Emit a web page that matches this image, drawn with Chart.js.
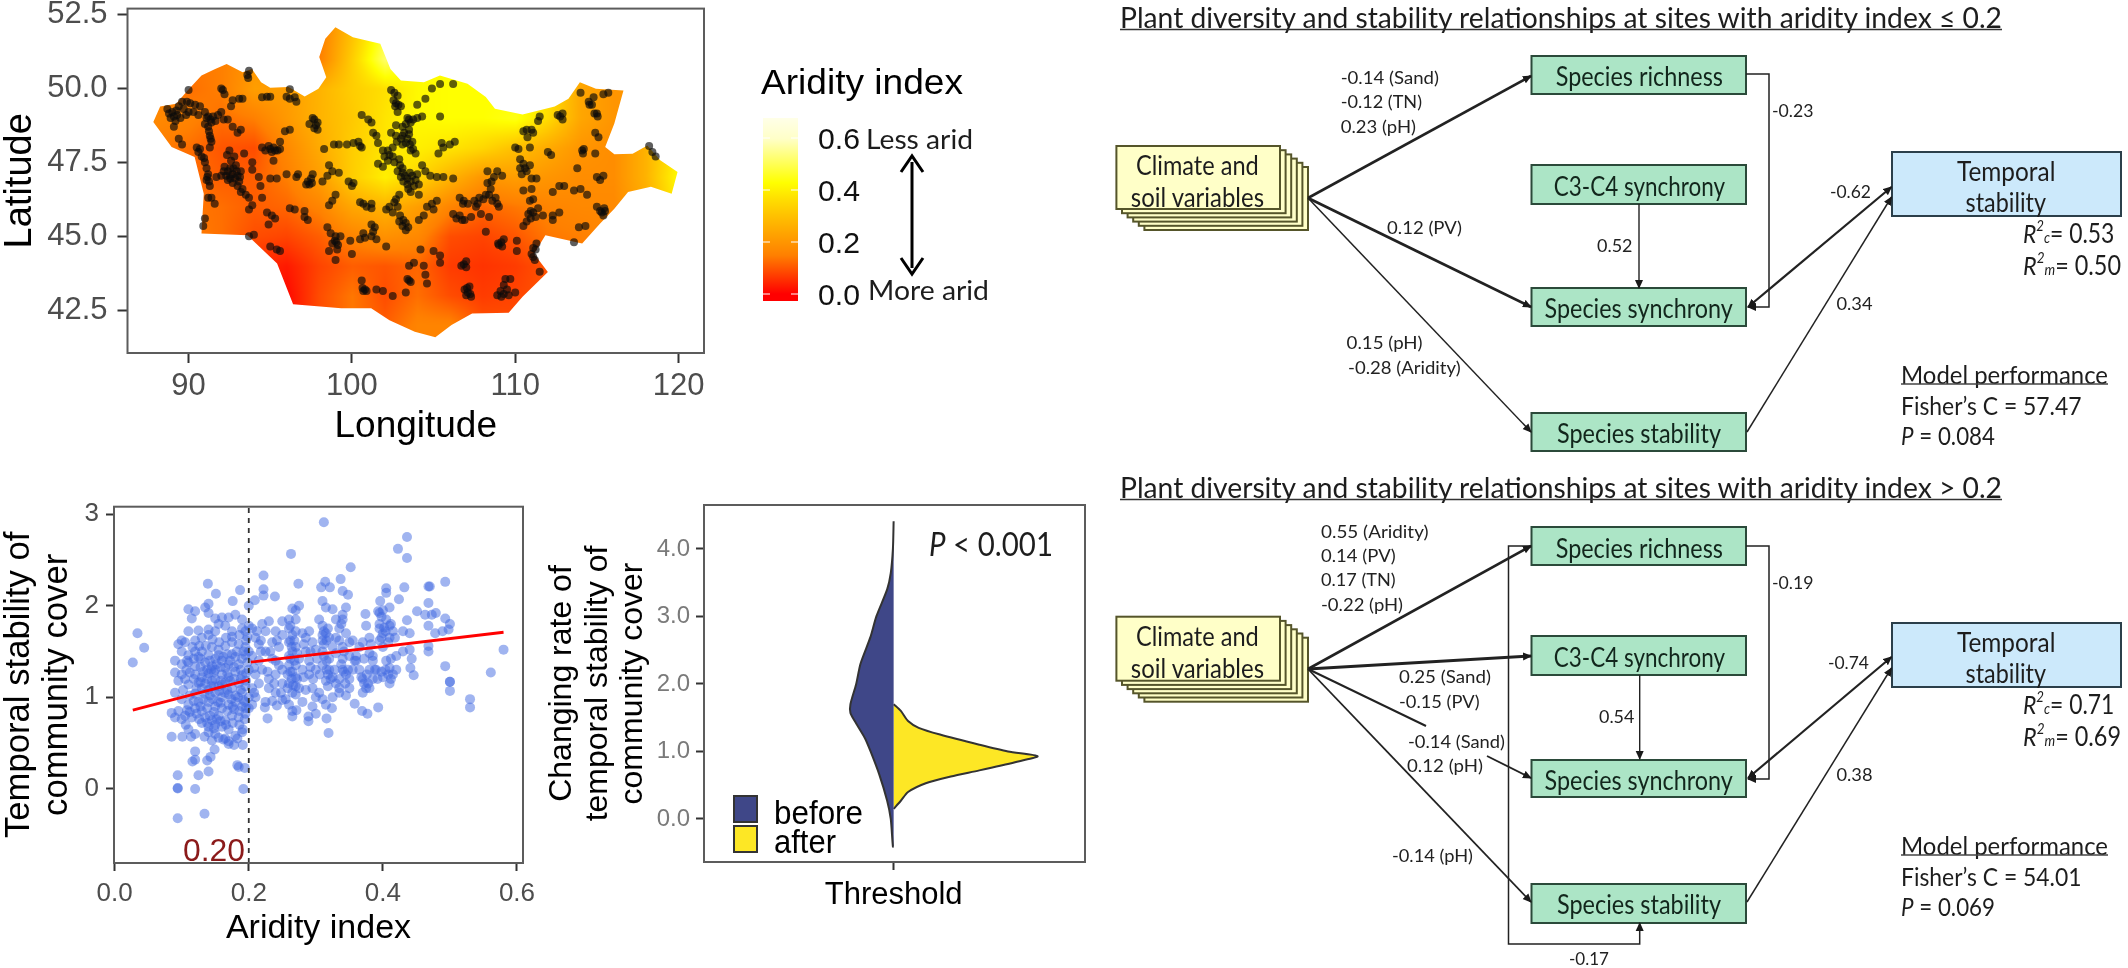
<!DOCTYPE html>
<html><head><meta charset="utf-8">
<script src="https://cdn.jsdelivr.net/npm/chart.js@4"></script>
<style>
html,body{margin:0;padding:0;background:#fff;width:2128px;height:968px;overflow:hidden}
canvas{position:absolute;filter:blur(.5px)}
svg{position:absolute;left:0;top:0;filter:blur(.35px)}
</style></head><body>
<canvas id="map" style="left:0;top:-20px" width="740" height="470"></canvas>
<canvas id="sca" style="left:0;top:470px" width="550" height="498"></canvas>
<canvas id="vio" style="left:545px;top:470px" width="560" height="498"></canvas>
<svg id="ov" width="2128" height="968" xmlns="http://www.w3.org/2000/svg"></svg>
<script>
// ---------- DATA ----------
const lonTicks=[90,100,110,120];
const latTicks=[42.5,45,47.5,50,52.5];
const aridityTicks=[0,0.2,0.4,0.6];
const stabilityTicks=[0,1,2,3];
const rateTicks=[0,1,2,3,4];
const legendTicks=[0,0.2,0.4,0.6];
// aridity surface
const gridLons=[88,90,92,94,96,98,100,102,104,106,108,110,112,114,116,118,120];
const gridLats=[52,51,50,49,48,47,46,45,44,43,42,41];
const aridityGrid=[
[.15,.15,.15,.17,.15,.14,.30,.47,.42,.42,.42,.42,.38,.25,.20,.20,.30],
[.15,.14,.15,.20,.15,.15,.33,.52,.42,.43,.43,.42,.38,.25,.20,.20,.30],
[.15,.13,.15,.22,.22,.27,.33,.37,.42,.43,.43,.42,.38,.24,.20,.20,.30],
[.17,.16,.13,.15,.21,.27,.32,.38,.42,.43,.43,.45,.36,.24,.20,.20,.30],
[.15,.13,.10,.09,.17,.25,.33,.38,.40,.38,.35,.30,.25,.20,.18,.27,.40],
[.14,.13,.11,.11,.15,.22,.33,.40,.35,.27,.20,.22,.20,.18,.18,.27,.43],
[.15,.14,.13,.11,.12,.16,.24,.27,.22,.16,.12,.14,.16,.17,.17,.25,.40],
[.15,.15,.13,.09,.08,.11,.16,.19,.17,.09,.08,.10,.14,.15,.17,.20,.30],
[.15,.15,.10,.05,.03,.08,.11,.10,.12,.07,.06,.07,.10,.14,.15,.20,.30],
[.15,.15,.10,.05,.01,.09,.14,.09,.13,.09,.07,.08,.10,.14,.15,.20,.30],
[.15,.15,.10,.05,.01,.09,.14,.11,.16,.16,.10,.09,.10,.14,.15,.20,.30],
[.15,.15,.10,.05,.01,.09,.14,.11,.16,.16,.10,.09,.10,.14,.15,.20,.30]];
const colourStops=[[0,'#ff0000'],[.075,'#ff4000'],[.15,'#ff8000'],[.225,'#ffa000'],[.3,'#ffc000'],[.37,'#ffe000'],[.43,'#ffff00'],[.6,'#ffffc8'],[.68,'#ffffe8']];
const border=[[87.84,48.86],[88.26,49.39],[89.24,49.48],[89.94,49.93],[90.79,50.44],[91.63,50.66],[92.33,50.83],[93.31,50.55],[93.88,50.66],[94.44,50.21],[95,50.02],[96.12,50.05],[97.11,49.73],[97.95,49.99],[98.43,50.38],[98,51.06],[98.37,51.68],[98.99,52.07],[100.06,51.73],[101.74,51.51],[102.36,50.66],[103,50.27],[104.41,50.21],[105.39,50.44],[107.08,50.16],[108.2,49.71],[108.76,49.31],[110.45,49.12],[112.42,49.39],[113.26,49.65],[113.96,50.21],[114.94,49.99],[116.63,49.93],[116.07,48.81],[115.51,48.02],[116.07,47.77],[117.19,47.79],[118.09,48.07],[118.88,47.57],[119.94,47.17],[119.58,46.44],[118.31,46.67],[116.91,46.5],[116.07,45.93],[115.2,45.43],[114.1,44.75],[111.85,45.03],[111.15,44.41],[112,43.79],[110.45,42.95],[109.6,42.41],[107.36,42.39],[106.1,42],[105.11,41.58],[103.85,41.77],[102.3,42.16],[101.18,42.56],[99.35,42.56],[96.4,42.7],[95.42,44.08],[93.6,45.03],[90.79,45.09],[90.93,46.44],[90.37,47.68],[88.96,48.02]];
const sites=[[88.7,49.3],[88.9,49],[89,49.2],[89.2,48.9],[89.3,49.1],[89.5,49],[89.1,48.7],[89.4,49.4],[89.6,49.55],[89.9,49.55],[90,49.95],[89.4,48.3],[89.6,48.1],[90.1,49.5],[90.3,49.2],[90,49.2],[90.7,49.4],[91,49.2],[91.2,49.05],[91.5,49.05],[91.8,49.1],[92,49.2],[91,48.8],[91.2,48.7],[91.4,48.85],[92.4,48.95],[92.7,48.7],[93,48.5],[93.2,48.6],[92.2,49.8],[92,50],[92.1,49.95],[93.1,49.65],[93.3,49.65],[92.7,49.6],[92.6,49.4],[91.3,48.4],[91.4,48.2],[91.3,48],[90.7,47.95],[90.5,48],[90.8,47.7],[91,47.5],
[93.6,50.45],[93.7,50.6],[93.65,50.35],[94.5,49.7],[94.8,49.72],[95,49.72],[96,49.72],[96.2,49.65],[96.5,49.7],[96.6,49.55],[96.2,49.97],
[92.5,47.9],[92.8,47.7],[92.6,47.55],[92.9,47.4],[92.2,47.35],[92.4,47.2],[92.7,47.1],[93,47.05],[93.2,47.2],[92,47.05],[91.7,47],[92.4,46.9],[92.7,46.8],[93,46.7],[93.3,46.6],[93.5,46.4],[93.7,46.3],[91.2,47.1],[91.1,46.9],[91.3,46.7],[91.2,46.3],[91.4,46.3],[91.6,46.1],[93.9,46.05],[93.7,45.9],[93.4,47.8],[93.9,47.5],[93.9,47.25],[94.3,47],[94.4,46.7],[94.5,46.3],
[94.5,48],[94.9,48.05],[95.1,47.85],[95.3,47.9],[95.6,47.95],[95.6,48.2],[95.9,48.55],[96.2,48.6],[95.2,47.55],[95,46.95],[95.4,46.95],
[94.8,45.8],[95.1,45.7],[95.3,45.6],[94.9,45.4],[93.7,45],[94,45.05],[95,44.65],[95.4,44.55],[95.6,44.5],[91,45.6],[90.9,45.35],
[96.2,45.95],[96.5,45.9],[97.1,45.85],[97.1,45.65],[97.3,45.55],[96.7,47.1],[96.6,47],[97.2,46.75],[97.4,46.75],[97.6,47.1],[97.5,46.95],[98.2,46.85],[98.5,47.05],[98.8,47.2],[98.6,47.4],[99.2,47.15],
[97.4,48.8],[97.6,49],[97.7,48.65],[97.9,48.85],[97.9,48.6],[98.3,47.95],[98.9,48.1],[99.2,48.1],[99.7,48.1],[100.1,48.15],[100.4,48.2],[100.5,48.05],[100.6,48],
[99.8,46.85],[100.1,46.8],[100,46.7],[98.8,46.2],[99,46.4],[98.6,46.05],[100.5,46.15],[100.7,46.1],[100.9,46],[101.2,45.95],[101.2,46.1],
[102.1,45.9],[102.3,46],[102.5,45.8],[102.7,46.25],[102.9,46.4],[102.8,46],[102.9,45.5],[103.1,45.35],[103.3,45.2],[103.3,45.45],
[104.1,45.55],[104.4,45.7],[104.6,46],[104.9,46.1],[105.2,46.2],[105,45.9],
[100.6,49.1],[101,48.95],[101.2,48.85],[101.3,48.5],[101.5,48.4],[101.6,48.15],[102.4,49.95],[102.6,49.85],[102.8,49.75],[102.7,49.5],[103,49.4],[102.8,49.2],[103.4,49],[103.6,48.85],[104,49],[104.3,49.05],[104,49.45],[104.5,49.65],[105.4,49.05],[104.9,50],[105.4,50.15],[106.2,50.15],[103.1,48.7],[102.7,48.75],[102.4,48.5],[102.7,48.4],[103.1,48.4],[103.5,48.6],[103.4,48.3],[103.7,48.2],[103.1,48.1],[103.6,47.9],[103.9,47.8],[102.5,48],[102.2,47.9],[101.9,47.9],[102,47.7],[102.5,47.7],[102.9,47.6],[101.6,47.45],[101.9,47.35],[102.8,47.2],[103.1,47.15],[103,47],[103.4,46.95],[103.7,47.05],[103.9,46.9],[103.4,46.75],[103.6,46.5],[104.1,46.4],[104.3,47.4],[104.5,47.2],[104.8,47.05],[105.2,47],[105.6,47],[106.2,46.95],[105.3,47.8],[105.5,48.15],[105.6,48],[106,48.1],[106.3,48.2],
[106.6,46.3],[106.8,46.1],[107.1,46.1],[106.2,45.75],[106.6,45.7],[106.9,45.55],[107.3,45.65],[107.6,46],[107.8,46.3],[108.2,46.4],[108.3,46.8],[108.5,46.6],[108.8,46.3],[108.9,46.1],[109,46],[107.9,45.75],[108.4,45.65],[108.3,47.2],[108.9,47.2],[109.2,47.05],[108.7,47],
[108.2,45.15],[109,44.7],[109.3,44.9],[109.2,44.65],[110.1,44.5],[110.1,44.85],[110.5,45.35],[110.7,45.5],[110.95,45.6],[111.1,45.8],[111.4,45.95],[111.7,45.7],[110.9,46.2],[111,46.6],[110.5,46.55],[111,46.95],[111.3,46.95],
[110,48],[110.2,47.95],[110.3,47.6],[110.3,47.3],[110.6,47.3],[110.9,47.4],[110.5,48.55],[110.7,48.6],[111.1,48.5],[110.9,48],[111.4,48.9],[111.5,49.05],[112.6,49.1],[112.9,49.15],[112.9,48.95],[112,47.85],[112.2,47.75],[112.7,46.7],[113,46.7],[112.3,46.5],[113.6,46.55],[114,46.6],[114.4,46.4],[113.8,47.3],[114.1,47.9],[114.2,47.95],[114.9,47.8],
[114,49.85],[114.5,49.55],[114.8,49.7],[115.4,49.8],[115.7,49.85],[115,49.15],[114.9,48.5],[115.1,48.35],[115,47],[115.4,47.05],[115,46],[115.3,45.8],[115.5,45.85],[115.2,45.85],[113.9,45.3],[114.3,45.35],[113.6,44.8],[112.3,45.7],[112.7,45.8],[112.3,45.55],[118.2,48.05],[118.4,47.85],[118.6,47.7],
[98.5,45.3],[98.7,45.1],[99,45],[99.3,45],[98.8,44.75],[98.6,44.5],[99.1,44.55],[99,44.2],[99.9,44.85],[100,44.4],[100.5,44.9],[100.7,45.1],[101.2,45.4],[101.4,45.3],[101.2,45],[101.5,44.9],[102.1,44.65],[100.6,43.5],[100.7,43.15],[100.9,43.15],[101.5,43.2],[101.9,43.15],[102.5,42.98],[103.3,43.1],[103.5,43.5],[103.5,44],[103.8,44.1],[104.2,44.55],[104.4,44],[104.5,43.7],[104.6,43.4],[105,44.5],[105.4,44.35],[105.4,44.1],[106.7,44],[107,44.15],[107,43.95],
[106.9,43.2],[107.2,43.3],[107,43],[107.3,42.95],[107.1,43.1],[108.9,43],[109.1,43.15],[109.3,43.05],[109.4,43.55],[109.7,43.55],[110,43.1],[109.6,43],[109.3,43.35],[111,44.4],[111.1,44.6],[111.3,44.75],[111.2,44.2],[111.5,43.8],
// denser parts of the same tracks
[88.8,49.15],[89.1,49.05],[89.25,49.25],[89.7,49.3],[89.85,49.1],[90.4,49.45],[90.6,49.1],[91.1,49],[91.35,48.95],[91.65,48.9],[92.15,48.95],[91.25,48.55],[91.35,48.3],[90.6,47.85],[90.95,47.65],[91.1,47.3],
[92.35,47.75],[92.55,47.3],[92.75,47.3],[92.95,47.2],[92.15,47.2],[92.3,47.05],[92.55,46.95],[92.85,46.95],[93.1,46.85],[92.55,47.05],[93.2,46.5],[91.15,47],[91.25,46.85],[93.15,47],
[95,47.95],[95.2,48],[95.45,47.9],[94.7,47.9],[96,47.1],[97.3,46.85],[97.55,46.8],[97.7,48.95],[97.8,48.75],
[102.55,49.6],[102.85,49.45],[102.65,49.4],[103.5,48.95],[103.75,48.95],[103.3,48.8],[103.2,48.5],[103.5,48.45],[103.3,48.15],[103.55,48.1],[103.75,47.95],[103,48.3],[102.75,48.2],[102.3,47.75],[102.2,47.55],[102.6,47.5],[102.95,47.4],[103.1,47.3],[103.25,47.05],[103.55,47.15],[103.15,46.85],[103.45,46.6],[103.6,46.85],[103.8,46.7],[104.1,46.75],[104,47.1],[102.6,46.15],[102.95,45.7],[103.15,45.55],[103.45,45.3],
[106.85,46.2],[107.5,46.2],[107.7,46.1],[108.05,46.25],[108.4,46.4],[108.6,46.2],[108.55,46.85],[106.4,45.6],[106.75,45.55],[110.8,45.75],[110.95,45.85],[111.25,45.65],[111.1,46.25],[110.5,47.45],[110.7,47.2],[110.4,47.1],[110.75,48.35],[111,48.6],[112.75,49.05],
[114.55,49.45],[114.7,49.45],[114.85,49.15],[115.05,49.05],[115.2,46.9],[115.45,45.95],[115.4,45.7],[114.15,47.8],
[98.95,44.85],[99.05,44.8],[99.15,44.7],[100.8,44.95],[101.3,45.15],[100.8,43.2],[100.65,43.25],[103.4,43.55],[103.6,43.45],[107.05,43.25],[107.25,43.05],[109.5,43.2],[109.15,42.95],[108.95,44.75],[109.15,44.8],[106.85,44.05],[111.1,44.3],[111.25,44.55]];

const stabilityPoints=[[.312,2.91],[.263,2.565],[.436,2.75],[.4225,2.62],[.436,2.52],[.352,2.42],[.139,2.24],[.151,2.13],[.187,2.17],[.176,2.05],[.222,2.33],[.222,2.18],[.222,2.11],[.239,2.1],[.209,2.06],[.2,2],[.274,2.24],[.308,2.2],[.314,2.26],[.321,2.2],[.337,2.29],[.34,2.16],[.348,2.12],[.405,2.19],[.405,2.14],[.432,2.2],[.424,2.07],[.396,2.05],[.468,2.21],[.47,2.21],[.493,2.26],[.468,2.03],[.41,1.98],[.393,1.94],[.451,1.94],[.374,1.91],[.463,1.9],[.473,1.9],[.479,1.92],[.493,1.86],[.5,1.8],[.498,1.74],[.489,1.72],[.468,1.78],[.478,1.7],[.436,1.84],
[.58,1.52],[.561,1.27],[.493,1.34],[.5,1.17],[.5,1.17],[.5,1.07],[.53,.98],[.53,.89],[.446,1.24],[.441,1.32],[.443,1.42],[.468,1.5],[.468,1.56],[.393,.89],[.377,.82],[.369,.85],[.358,.93],[.319,.61],[.289,.74],[.289,.79],[.228,.77],[.224,.89],[.242,.91],[.324,.88],[.316,.77],[.265,.79],[.271,.86],[.034,1.7],[.044,1.54],[.027,1.38],
[.094,-.32],[.134,-.27],[.094,.005],[.094,.01],[.12,0],[.192,0],[.094,.15],[.14,.19],[.125,.15],[.12,.32],[.116,.3],[.134,.57],[.085,.57],[.101,.57],[.114,.57],[.12,.41],[.138,.31],[.149,.43],[.143,.35],[.183,.26],[.185,.24],[.194,.23],[.191,.48],[.17,.49],[.178,.48],[.162,.54],[.183,.55],[.191,.65],
[.11,1.96],[.12,1.94],[.115,1.86],[.14,2.02],[.135,1.98],[.14,1.92],[.15,1.86],[.16,1.87],[.17,1.87],[.18,1.9],[.19,1.85],[.11,1.72],[.125,1.73],[.14,1.68],[.14,1.74],[.155,1.8],[.175,1.72],[.175,1.66],[.19,1.75],[.195,1.72],[.2,1.78],[.198,1.66],[.1,1.62],[.095,1.58],[.105,1.6],
[.1,1.5],[.11,1.46],[.12,1.5],[.13,1.5],[.14,1.46],[.145,1.55],[.155,1.52],[.165,1.56],[.175,1.6],[.185,1.58],[.195,1.55],[.2,1.5],[.09,1.4],[.1,1.36],[.11,1.38],[.12,1.34],[.135,1.38],[.145,1.34],[.16,1.4],[.17,1.36],[.18,1.44],[.19,1.42],[.198,1.38],[.155,1.46],[.175,1.47],[.128,1.42],[.15,1.42],[.165,1.32],[.185,1.36],[.195,1.46],[.107,1.3],[.125,1.44],[.142,1.4],[.168,1.47],
[.09,1.27],[.1,1.25],[.095,1.18],[.105,1.2],[.11,1.14],[.12,1.25],[.13,1.22],[.14,1.26],[.15,1.3],[.16,1.25],[.17,1.22],[.18,1.28],[.19,1.24],[.2,1.3],[.145,1.18],[.155,1.12],[.165,1.16],[.175,1.1],[.185,1.15],[.195,1.12],[.15,1.05],[.14,1.08],[.13,1.1],[.12,1.04],[.16,1],[.17,1.03],[.18,1.02],[.19,1.05],[.2,1],[.09,1.05],[.135,1.15],[.15,1.2],[.16,1.14],[.125,1.16],[.142,1.02],[.172,1.18],[.188,1.08],[.156,1.07],[.132,1.28],[.112,1.27],
[.1,.98],[.095,.85],[.085,.83],[.09,.78],[.105,.8],[.11,.92],[.12,.88],[.13,.85],[.125,.95],[.14,.95],[.15,.9],[.16,.88],[.17,.92],[.18,.95],[.19,.9],[.2,.88],[.115,.78],[.135,.78],[.145,.75],[.155,.8],[.165,.75],[.175,.8],[.185,.78],[.195,.82],[.15,.7],[.16,.68],[.14,.68],[.13,.72],[.17,.65],[.148,.84],[.138,.88],[.122,.82],[.158,.94],[.178,.87],[.192,.97],[.142,.8],[.152,.76],[.128,.9],
[.11,.65],[.12,.6],[.14,.62],[.15,.6],[.165,.55],[.17,.52],[.18,.58],[.19,.62],[.155,.56],[.145,.53],
[.205,1.75],[.21,1.65],[.215,1.58],[.22,1.8],[.225,1.72],[.23,1.83],[.235,1.6],[.24,1.72],[.245,1.55],[.25,1.68],[.25,1.83],[.205,1.45],[.215,1.4],[.225,1.5],[.235,1.42],[.245,1.35],[.21,1.25],[.22,1.3],[.23,1.2],[.24,1.25],[.25,1.3],[.205,1.1],[.215,1.15],[.23,1.1],[.24,1.05],[.25,1.15],[.21,1],[.225,.95],[.235,.96],[.205,.92],
[.26,1.85],[.265,1.97],[.27,1.95],[.275,2],[.27,1.85],[.26,1.75],[.265,1.68],[.27,1.72],[.26,1.6],[.27,1.55],[.28,1.7],[.285,1.65],[.29,1.72],[.295,1.6],[.26,1.45],[.265,1.5],[.275,1.42],[.285,1.5],[.29,1.4],[.3,1.52],[.26,1.35],[.265,1.28],[.27,1.22],[.26,1.15],[.28,1.3],[.29,1.25],[.3,1.3],[.275,1.1],[.265,1.05],[.255,.98],[.26,.92],[.27,1.03],[.285,1.08],[.295,1.1],[.3,1],[.28,.95],[.25,.97],[.265,.85],[.295,.9],[.262,1.62],[.268,1.4],[.258,1.25],[.266,1.13],
[.31,2.05],[.315,1.98],[.325,1.96],[.305,1.85],[.31,1.78],[.315,1.7],[.31,1.62],[.32,1.65],[.325,1.55],[.33,1.85],[.335,1.75],[.34,1.9],[.345,1.98],[.34,1.85],[.345,1.7],[.35,1.6],[.34,1.55],[.33,1.48],[.31,1.5],[.32,1.42],[.31,1.35],[.32,1.3],[.325,1.22],[.315,1.18],[.33,1.15],[.34,1.3],[.345,1.25],[.35,1.2],[.34,1.42],[.305,1.05],[.31,.98],[.315,.92],[.325,1],[.335,1.05],[.345,1.02],[.35,1.1],[.3,.82],[.335,1.1],[.312,1.72],[.316,1.3],[.318,1.12],[.342,1.28],
[.355,1.62],[.36,1.45],[.365,1.3],[.37,1.2],[.375,1.1],[.37,1.6],[.375,1.78],[.38,1.65],[.38,1.48],[.385,1.4],[.39,1.3],[.385,1.2],[.37,1.05],[.38,1.1],[.385,1.45],[.395,1.92],[.395,1.75],[.4,1.7],[.405,1.85],[.41,1.78],[.41,1.65],[.4,1.55],[.405,1.4],[.41,1.32],[.415,1.25],[.42,1.3],[.4,1.22],[.41,1.15],[.415,1.72],[.43,1.72],[.44,1.7],[.43,1.5],[.44,1.52],[.42,1.45],[.395,1.8],[.4,1.95],[.36,1.4],[.365,1.55],[.355,1.3],[.378,1.15],[.402,1.76],[.412,1.42],
// dense centre, second pass
[.108,1.4],[.118,1.42],[.128,1.33],[.138,1.3],[.148,1.27],[.158,1.33],[.168,1.26],[.178,1.33],[.188,1.3],[.196,1.26],[.118,1.2],[.128,1.17],[.138,1.2],[.148,1.12],[.158,1.18],[.168,1.08],[.178,1.2],[.188,1.2],[.196,1.18],[.122,1.1],[.134,1.04],[.144,1.12],[.164,1.05],[.174,.98],[.184,1],[.194,.95],[.112,1.02],[.102,1.08],[.108,.86],[.118,.96],[.132,.98],[.146,.98],[.154,.95],[.168,.85],[.176,.9],[.186,.85],[.196,.88],[.112,.84],[.126,.76],[.138,.72],[.148,.66],[.158,.74],[.166,.7],[.176,.72],[.186,.7],[.194,.76],[.1,.76],[.106,.7],[.144,1.3],[.152,1.36],[.162,1.44],[.172,1.4],[.182,1.5],[.192,1.5],[.126,1.56],[.116,1.55],[.136,1.56],[.146,1.63],[.156,1.6],[.166,1.65],[.186,1.68],[.196,1.62],[.165,1.78],[.12,1.62],[.13,1.65],[.15,1.72],
[.262,1.78],[.268,1.62],[.264,1.55],[.272,1.48],[.262,1.42],[.27,1.35],[.262,1.28],[.272,1.2],[.264,1.2],[.27,1.12],[.258,1.1],[.282,1.22],[.292,1.33],[.302,1.42],[.282,1.58],[.292,1.5],[.296,1.2],[.306,1.25],[.312,1.58],[.316,1.62],[.31,1.68],[.318,1.75],[.312,1.45],[.316,1.4],[.322,1.2],[.318,1.25],[.328,1.3],[.335,1.2],[.344,1.15],[.348,1.3],[.338,1.36],[.342,1.5],[.35,1.45],[.33,1.65],[.335,1.62],[.338,1.8],[.358,1.4],[.368,1.22],[.372,1.15],[.38,1.3],[.376,1.25],[.372,1.42],[.382,1.58],[.388,1.3],[.392,1.2],[.398,1.28],[.404,1.3],[.408,1.25],[.412,1.2],[.398,1.65],[.404,1.72],[.408,1.6],[.412,1.8],[.418,1.65],[.398,1.88],[.395,1.62],[.24,1.4],[.232,1.5],[.242,1.62],[.212,1.72],[.218,1.5],[.208,1.32],[.228,1.28],[.238,1.15],[.248,1.05],[.208,1.05],[.218,1.62]];
const fitBelow=[[.027,.86],[.2,1.19]];
const fitAbove=[[.203,1.385],[.58,1.71]];
const thresholdValue=0.2;
const densityBefore=[[0,4.41],[.005,4.0],[.02,3.64],[.045,3.4],[.12,3.0],[.16,2.7],[.23,2.3],[.26,2.0],[.3,1.7],[.3,1.57],[.27,1.45],[.2,1.2],[.16,1.0],[.1,.66],[.045,.27],[.02,0],[.005,-.41],[0,-.41]];
const densityAfter=[[0,1.7],[.05,1.6],[.1,1.45],[.174,1.35],[.322,1.25],[.595,1.1],[.794,1.0],[1,.93],[.843,.84],[.595,.72],[.397,.63],[.223,.53],[.1,.4],[.05,.27],[0,.15]];
const legendLabels=['before','after'];
// path-diagram texts
const diagramTitles=['Plant diversity and stability relationships at sites with aridity index ≤ 0.2','Plant diversity and stability relationships at sites with aridity index > 0.2'];
const boxNames=['Species richness','C3-C4 synchrony','Species synchrony','Species stability'];
const r2cValues=['0.53','0.71'],r2mValues=['0.50','0.69'];
const fisherC=['57.47','54.01'],pValues=['0.084','0.069'];

// ---------- CHARTS ----------
Chart.defaults.animation=false;
Chart.defaults.responsive=false;
Chart.defaults.devicePixelRatio=1;
Chart.defaults.font.family='"Liberation Sans",Arial,sans-serif';
Chart.defaults.plugins.legend.display=false;
Chart.defaults.plugins.tooltip.enabled=false;
const frame={id:'frame',afterDraw(c){const a=c.chartArea,g=c.ctx;g.save();g.strokeStyle='#5c5c5c';g.lineWidth=2;g.strokeRect(a.left,a.top,a.width,a.height);g.restore();}};
function axis(o){return Object.assign({type:'linear',grid:{drawOnChartArea:false,drawTicks:true,tickLength:o.tick||9,tickColor:'#333',tickWidth:2,color:'#333'},border:{display:false},
 afterFit(s){if(o.w)s.width=o.w;if(o.h)s.height=o.h;},
 afterBuildTicks(s){s.ticks=o.ticks.map(v=>({value:v}));},
 ticks:{autoSkip:false,maxRotation:0,font:{size:o.fs},color:o.col||'#4d4d4d',padding:o.pad||8,callback:o.cb},
 title:{display:true,text:o.title,color:'#000',font:{size:o.tfs,lineHeight:o.lh||1.1},padding:o.tp||{top:0,bottom:0}}},{min:o.min,max:o.max});}
function hex(c){return [1,3,5].map(i=>parseInt(c.slice(i,i+2),16));}
function colourAt(t){for(let i=1;i<colourStops.length;i++){const[a,ca]=colourStops[i-1],[b,cb]=colourStops[i];if(t<=b){const f=Math.max(0,(t-a)/(b-a)),A=hex(ca),B=hex(cb);return A.map((v,k)=>v+(B[k]-v)*f);}}return hex(colourStops[colourStops.length-1][1]);}
function sampleGrid(lon,lat){const fx=Math.min(gridLons.length-1.001,Math.max(0,(lon-gridLons[0])/2)),fy=Math.min(gridLats.length-1.001,Math.max(0,gridLats[0]-lat));const i=Math.floor(fx),j=Math.floor(fy),u=fx-i,v=fy-j;const g=aridityGrid;return g[j][i]*(1-u)*(1-v)+g[j][i+1]*u*(1-v)+g[j+1][i]*(1-u)*v+g[j+1][i+1]*u*v;}
const heat={id:'heat',beforeDatasetsDraw(c){const X=c.scales.x,Y=c.scales.y,a=c.chartArea,g=c.ctx;const w=Math.round(a.width),h=Math.round(a.height);const off=document.createElement('canvas');off.width=w;off.height=h;const oc=off.getContext('2d'),im=oc.createImageData(w,h);
 for(let py=0;py<h;py++)for(let px=0;px<w;px++){const col=colourAt(sampleGrid(X.getValueForPixel(a.left+px),Y.getValueForPixel(a.top+py)));const k=(py*w+px)*4;im.data[k]=col[0];im.data[k+1]=col[1];im.data[k+2]=col[2];im.data[k+3]=255;}
 oc.putImageData(im,0,0);g.save();g.beginPath();border.forEach((p,i)=>{const x=X.getPixelForValue(p[0]),y=Y.getPixelForValue(p[1]);i?g.lineTo(x,y):g.moveTo(x,y);});g.closePath();g.clip();g.drawImage(off,a.left,a.top);g.restore();}};

new Chart(document.getElementById('map'),{type:'scatter',plugins:[heat,frame],
 data:{datasets:[{data:sites.map(p=>({x:p[0],y:p[1]})),pointRadius:4,pointBackgroundColor:'rgba(10,10,10,.66)',pointBorderWidth:0}]},
 options:{layout:{padding:{top:28,right:36,left:0,bottom:0}},scales:{
  x:axis({min:86.26,max:121.56,ticks:lonTicks,h:97,fs:31,tick:10,pad:5,title:'Longitude',tfs:37,tp:{top:0,bottom:3},cb:v=>String(v)}),
  y:axis({min:41.05,max:52.70,ticks:latTicks,w:127.5,fs:31,tick:10,pad:10,title:'Latitude',tfs:38,cb:v=>v.toFixed(1)})}}});

new Chart(document.getElementById('sca'),{type:'scatter',plugins:[frame],
 data:{datasets:[
  {order:3,data:stabilityPoints.map(p=>({x:p[0],y:p[1]})),pointRadius:5,pointBackgroundColor:'rgba(65,105,225,.5)',pointBorderWidth:0},
  {order:2,data:[{x:thresholdValue,y:-0.808},{x:thresholdValue,y:3.08}],showLine:true,pointRadius:0,borderColor:'#333',borderWidth:1.8,borderDash:[5,5]},
  {order:1,data:fitBelow.map(p=>({x:p[0],y:p[1]})),showLine:true,pointRadius:0,borderColor:'#ff0000',borderWidth:2.8},
  {order:0,data:fitAbove.map(p=>({x:p[0],y:p[1]})),showLine:true,pointRadius:0,borderColor:'#ff0000',borderWidth:2.8}]},
 options:{layout:{padding:{top:36.7,right:27,left:0,bottom:0}},scales:{
  x:axis({min:-0.001,max:0.609,ticks:aridityTicks,h:105,fs:26,tick:8,pad:7,title:'Aridity index',tfs:34,tp:{top:0,bottom:21},cb:v=>v.toFixed(1)}),
  y:axis({min:-0.808,max:3.08,ticks:stabilityTicks,w:114,fs:26,tick:8,pad:7,title:['Temporal stability of','community cover'],tfs:34.7,lh:1.1,cb:v=>String(v)})}}});

new Chart(document.getElementById('vio'),{type:'scatter',plugins:[frame],
 data:{datasets:[
  {data:densityBefore.map(p=>({x:-p[0],y:p[1]})),showLine:true,fill:'shape',tension:.25,backgroundColor:'#3f4788',borderColor:'#333',borderWidth:2,pointRadius:0},
  {data:densityAfter.map(p=>({x:p[0],y:p[1]})),showLine:true,fill:'shape',tension:.25,backgroundColor:'#fde725',borderColor:'#333',borderWidth:2,pointRadius:0}]},
 options:{layout:{padding:{top:35,right:20,left:0,bottom:0}},plugins:{filler:{propagate:false}},scales:{
  x:axis({min:-1.317,max:1.329,ticks:[0],h:106,fs:31,tick:8,pad:7,col:'#000',title:'',tfs:1,cb:()=>'Threshold'}),
  y:axis({min:-0.637,max:4.65,ticks:rateTicks,w:159,fs:24,tick:8,pad:6,col:'#7a7a7a',title:['Changing rate of','temporal stability of','community cover'],tfs:32,lh:1.1,cb:v=>v.toFixed(1)})}}});

// ---------- SVG overlay: legends and path diagrams ----------
const NS='http://www.w3.org/2000/svg',ov=document.getElementById('ov');
function el(n,a,p){const e=document.createElementNS(NS,n);for(const k in a)e.setAttribute(k,a[k]);(p||ov).appendChild(e);return e;}
const LAT='Lato,"Open Sans",sans-serif',ARI='"Liberation Sans",Arial,sans-serif';
function T(s,x1,x2,y,size,o={}){const t=el('text',{x:x1,y:y,'font-family':o.f||LAT,'font-size':size,fill:o.c||'#1d1d1d','dominant-baseline':'central',textLength:x2-x1,lengthAdjust:'spacingAndGlyphs'});if(o.i)t.setAttribute('font-style','italic');t.textContent=s;return t;}
function L(pts,w,o={}){const a={points:pts.map(p=>p.join(',')).join(' '),fill:'none',stroke:o.c||'#222','stroke-width':w};if(o.end)a['marker-end']='url(#ah)';if(o.start)a['marker-start']='url(#ahs)';return el('polyline',a);}
const defs=el('defs',{});
function marker(id,orient){const m=el('marker',{id,markerUnits:'userSpaceOnUse',markerWidth:9,markerHeight:9,refX:8,refY:4.5,orient},defs);el('path',{d:'M0,0.5 L9,4.5 L0,8.5 Z',fill:'#1a1a1a'},m);}
marker('ah','auto');marker('ahs','auto-start-reverse');
// colour bar
const gr=el('linearGradient',{id:'cb',x1:0,y1:1,x2:0,y2:0},defs);
const barLo=-.027,barHi=.68;
colourStops.forEach(s=>el('stop',{offset:Math.max(0,(s[0]-barLo)/(barHi-barLo)),'stop-color':s[1]},gr));
el('rect',{x:763,y:118,width:35,height:183,fill:'url(#cb)'});
T('Aridity index',761,963,81,35,{f:ARI,c:'#000'});
legendTicks.forEach(v=>{const y=294-v/0.6*156;T(v.toFixed(1),818,860,y,30,{f:ARI,c:'#111'});
 el('line',{x1:763,x2:770,y1:y,y2:y,stroke:'#fff','stroke-width':1});el('line',{x1:791,x2:798,y1:y,y2:y,stroke:'#fff','stroke-width':1});});
T('Less arid',866,973,138,27);T('More arid',868,989,289,27);
// double arrow
el('line',{x1:912,y1:162,x2:912,y2:268,stroke:'#000','stroke-width':3});
el('path',{d:'M901,172 L912,156 L923,172',fill:'none',stroke:'#000','stroke-width':3});
el('path',{d:'M901,258 L912,274 L923,258',fill:'none',stroke:'#000','stroke-width':3});
// threshold label
T('0.20',183,245,850,32,{f:ARI,c:'#8b1a1a'});
// violin legend + P
el('rect',{x:734,y:796,width:23,height:26,fill:'#3f4788',stroke:'#333','stroke-width':2});
el('rect',{x:734,y:826,width:23,height:26,fill:'#fde725',stroke:'#333','stroke-width':2});
T(legendLabels[0],774,863,812,33,{f:ARI,c:'#000'});T(legendLabels[1],774,836,841,33,{f:ARI,c:'#000'});
const pt=T('',929,1053,543,32);pt.innerHTML='<tspan font-style="italic">P</tspan> &lt; 0.001';

function box(x1,y1,x2,y2,fill,st){el('rect',{x:x1,y:y1,width:x2-x1,height:y2-y1,fill,stroke:st||'#2b4a3a','stroke-width':2});}
const G='#ace5c6',BL='#cce9fb',YL='#ffffc8';
function diagram(d){
 const {boxesY:by,titleY,climY,tempY}=d;
 T(diagramTitles[d.n],1120,2002,titleY,28);
 el('line',{x1:1120,x2:2002,y1:titleY+12.5,y2:titleY+12.5,stroke:'#333','stroke-width':1.6});
 for(let i=5;i>=0;i--)box(1116.4+i*5.6,climY[0]+i*4.2,1280+i*5.6,climY[1]+i*4.2,YL,'#55552a');
 box(1892,tempY[0],2121,tempY[1],BL,'#2b3f4a');
 boxNames.forEach((n,i)=>box(1531.5,by[i][0],1746,by[i][1],G));
 d.lines(d);
 boxNames.forEach((n,i)=>T(n,d.nameX[i][0],d.nameX[i][1],d.nameY[i]-1,26,{c:'#12261c'}));
 T('Climate and',1136,1258.7,d.climT[0]-2,26);T('soil variables',1130.8,1264,d.climT[1]-1,26);
 T('Temporal',1957,2055.4,d.tempT[0]-2,26);T('stability',1965.6,2046,d.tempT[1]-2,26);
 const r=(sub,val,y,x2)=>{const t=T('',2023,x2,y,26);t.innerHTML=`<tspan font-style="italic">R</tspan><tspan font-style="italic" font-size="15" dy="-8">2</tspan><tspan font-style="italic" font-size="15" dy="12">${sub}</tspan><tspan dy="-4">= ${val}</tspan>`;};
 r('c',r2cValues[d.n],d.r2Y[0],2114.4);r('m',r2mValues[d.n],d.r2Y[1],2121);
 T('Model performance',1901,2108,d.mpY,25);
 el('line',{x1:1901,x2:2108,y1:d.mpY+10,y2:d.mpY+10,stroke:'#444','stroke-width':1.5});
 T("Fisher’s C = "+fisherC[d.n],1901,2081.6,d.mpY+30.5,25);
 const p=T('',1901,1995,d.mpY+60.5,25);p.innerHTML=`<tspan font-style="italic">P</tspan> = ${pValues[d.n]}`;
 d.labels.forEach(a=>T(a[0],a[1],a[2],a[3],18,{c:'#222'}));
}
const nameX=[[1555.7,1723],[1553.8,1725],[1544.6,1732.8],[1557,1721]];
diagram({n:0,titleY:17,climY:[146,209],tempY:[152,216],boxesY:[[56,94],[165,204],[288,326],[413,451]],nameX,nameY:[77,187,309,434],climT:[167,198],tempT:[173,204],r2Y:[233,265],mpY:374,
 lines(){
  L([[1308,198],[1531,76]],2.6,{end:1});L([[1308,198],[1531,307]],2.8,{end:1});L([[1308,198],[1531,432]],1.5,{end:1});
  L([[1746,74],[1769,74],[1769,307],[1748,307]],1.5,{end:1});
  L([[1639,204],[1639,288]],1.4,{end:1});
  L([[1748,307],[1891.5,187]],2.2,{end:1,start:1});
  L([[1747,432],[1891.5,197]],1.5,{end:1});},
 labels:[['-0.14 (Sand)',1340.7,1439,77],['-0.12 (TN)',1340.7,1422,101],['0.23 (pH)',1340.7,1416,126],['-0.23',1772,1813.5,110],['0.12 (PV)',1387,1462,227],['0.52',1597,1632.5,245],['-0.62',1830,1871,191],['0.34',1836.4,1872.5,303],['0.15 (pH)',1346.6,1422.6,342],['-0.28 (Aridity)',1348,1460.6,367]]});
diagram({n:1,titleY:487,climY:[616.7,680.7],tempY:[623,687],boxesY:[[527,565],[636,675],[760,797],[884,923]],nameX,nameY:[549,658,781,905],climT:[638,669],tempT:[644,675],r2Y:[704,736],mpY:845,
 lines(){
  L([[1531,546],[1508.5,546],[1508.5,944],[1639.7,944],[1639.7,923]],1.5,{end:1});
  L([[1308,669],[1531,546]],2.6,{end:1});L([[1308,669],[1531,656]],3,{end:1});
  L([[1308,669],[1426,726]],2);L([[1487,756],[1531,778]],1.8,{end:1});
  L([[1308,669],[1531,902]],1.8,{end:1});
  L([[1746,546],[1769,546],[1769,779],[1748,779]],1.5,{end:1});
  L([[1639.7,675],[1639.7,759]],1.4,{end:1});
  L([[1748,778],[1891.5,657]],2.2,{end:1,start:1});
  L([[1747,902],[1891.5,668]],1.5,{end:1});},
 labels:[['0.55 (Aridity)',1321,1428.5,531],['0.14 (PV)',1321,1395.7,555],['0.17 (TN)',1321,1395.7,579],['-0.22 (pH)',1321,1403,604],['0.25 (Sand)',1399,1491,676],['-0.15 (PV)',1399,1479.7,701],['-0.14 (Sand)',1408,1505,741],['0.12 (pH)',1407,1483,765],['-0.14 (pH)',1392,1473,855],['-0.19',1772,1813.5,582],['0.54',1599,1634.4,716],['-0.74',1828,1869,662],['0.38',1836.4,1872.5,774],['-0.17',1569,1609,958]]});
</script></body></html>
